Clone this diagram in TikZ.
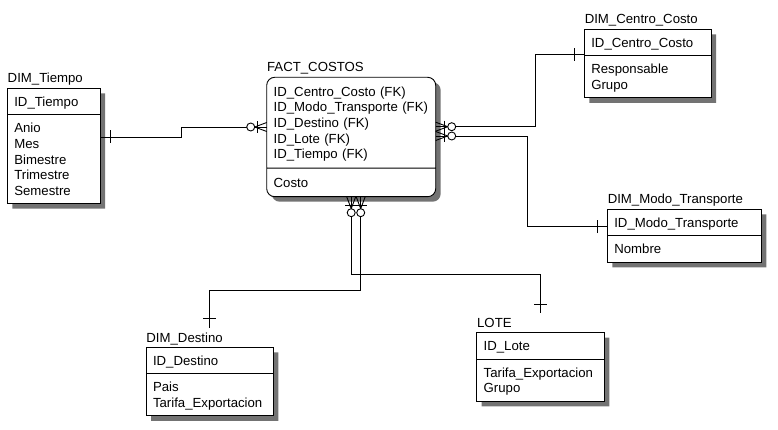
\documentclass[tikz,border=0pt]{standalone}
\usepackage{fontspec}
\setmainfont{Liberation Sans}
\usetikzlibrary{shapes.multipart,shadows}

\newcommand\rowstrut{\rule[-3pt]{0pt}{15.6pt}}

\tikzset{
  entity/.style={rectangle split, rectangle split parts=2, draw, fill=white,
    anchor=north west, text width=#1, align=left, inner xsep=7pt, inner ysep=5pt,
    outer sep=0pt, font=\fontsize{13.2}{15.6}\selectfont,
    drop shadow={shadow xshift=5pt, shadow yshift=-5pt, fill=black!55, opacity=1}},
  title/.style={anchor=base west, inner xsep=0pt, inner ysep=4.4pt,
    font=\fontsize{13.2}{15.6}\selectfont},
  one/.pic={\draw (#1,-6.5) -- (#1,6.5);},
  many/.pic={
    \draw (0,-4.5) -- (12,0) -- (0,4.5);
    \draw (9,-6) -- (9,6);
    \draw[fill=white] (16,0) circle[radius=4];}
}

\begin{document}
\begin{tikzpicture}[x=1pt,y=-1pt,line width=0.9pt]
\useasboundingbox (0,0) rectangle (778,430);

% the tables
\node[entity=155pt, rounded corners=8pt, inner ysep=6pt] (fact) at (266.7,77.3)
  {ID\_Centro\_Costo (FK)\rowstrut\\ ID\_Modo\_Transporte~(FK)\rowstrut\\ ID\_Destino (FK)\rowstrut\\
   ID\_Lote (FK)\rowstrut\\ ID\_Tiempo (FK)\rowstrut
   \nodepart{two} Costo\rowstrut};
\node[entity=78.7pt] (tiempo) at (7.3,88.3)
  {ID\_Tiempo\rowstrut
   \nodepart{two} Anio\rowstrut\\ Mes\rowstrut\\ Bimestre\rowstrut\\ Trimestre\rowstrut\\ Semestre\rowstrut};
\node[entity=112.7pt] (centro) at (584.3,29.3)
  {ID\_Centro\_Costo\rowstrut
   \nodepart{two} Responsable\rowstrut\\ Grupo\rowstrut};
\node[entity=140pt] (modo) at (607.3,209.3)
  {ID\_Modo\_Transporte\rowstrut
   \nodepart{two} Nombre\rowstrut};
\node[entity=113.3pt] (destino) at (146,347.3)
  {ID\_Destino\rowstrut
   \nodepart{two} Pais\rowstrut\\ Tarifa\_Exportacion\rowstrut};
\node[entity=113.6pt] (lote) at (476.7,332.7)
  {ID\_Lote\rowstrut
   \nodepart{two} Tarifa\_Exportacion\rowstrut\\ Grupo\rowstrut};

% the table names
\node[title] (fact-t) at ([yshift=5.3pt]fact.north west) {FACT\_COSTOS};
\node[title] (tiempo-t) at ([yshift=5.3pt]tiempo.north west) {DIM\_Tiempo};
\node[title] (centro-t) at ([yshift=5.3pt]centro.north west) {DIM\_Centro\_Costo};
\node[title] (modo-t) at ([yshift=5.3pt]modo.north west) {DIM\_Modo\_Transporte};
\node[title] (destino-t) at ([yshift=5.3pt]destino.north west) {DIM\_Destino};
\node[title] (lote-t) at ([yshift=5.3pt]lote.north west) {LOTE};

% the relationships
\draw (tiempo.east |- 0,137) -| (181.5,127) -- (fact.west |- 0,127);
\draw (fact.east |- 0,126.7) -| (535.3,54.5) -- (centro.west |- 0,54.5);
\draw (fact.east |- 0,136) -| (527.3,226.7) -- (modo.west |- 0,226.7);
\draw (fact.south) -- (fact.south |- 0,274.3) -| (lote.north |- lote-t.north);
\draw ([xshift=9.5pt]fact.south) -- ([xshift=9.5pt]fact.south |- 0,290) -| (destino.north |- destino-t.north);

% the ends
\pic[rotate=180] at (fact.west |- 0,127) {many};
\pic at (fact.east |- 0,126.7) {many};
\pic at (fact.east |- 0,136) {many};
\pic[rotate=-90] at (fact.south) {many};
\pic[rotate=-90] at ([xshift=9.5pt]fact.south) {many};
\pic at (tiempo.east |- 0,137) {one=10.5};
\pic[rotate=180] at (centro.west |- 0,54.5) {one=10};
\pic[rotate=180] at (modo.west |- 0,226.7) {one=10};
\pic[rotate=90] at (lote.north |- lote-t.north) {one=9};
\pic[rotate=90] at (destino.north |- destino-t.north) {one=9};
\end{tikzpicture}
\end{document}
